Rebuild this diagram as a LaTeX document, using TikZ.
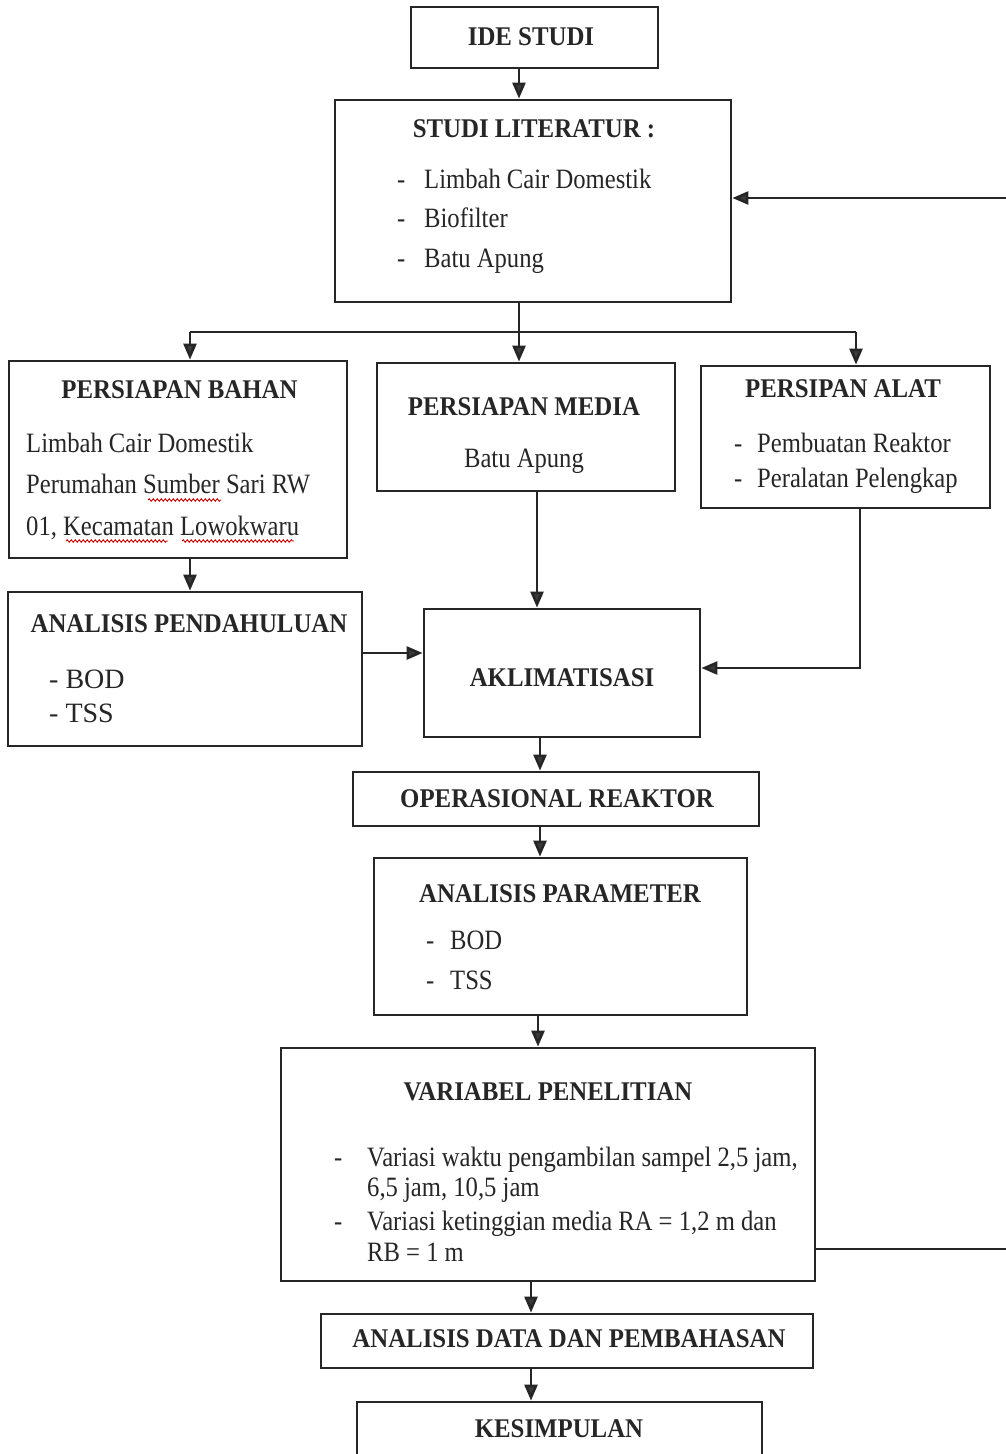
\documentclass[tikz,border=0pt]{standalone}
\usepackage{fontspec}
\setmainfont{Liberation Serif}
\newfontfamily\condfont[FakeStretch=0.92]{Liberation Serif}
\newfontfamily\bodyfont[FakeStretch=0.88]{Liberation Serif}
\usetikzlibrary{arrows.meta,decorations.pathmorphing}
\definecolor{ink}{HTML}{262626}
\definecolor{tipc}{HTML}{3A3A3A}
\begin{document}
\begin{tikzpicture}[x=1pt,y=-1pt,
  box/.style={draw=ink, line width=2.8pt, inner sep=0pt},
  ttl/.style={font=\condfont\bfseries\fontsize{27}{30}\selectfont, inner sep=0pt, anchor=base, text=ink},
  txt/.style={font=\bodyfont\fontsize{28}{32}\selectfont, inner sep=0pt, anchor=base west, text=ink},
  txtc/.style={txt, anchor=base},
  big/.style={font=\fontsize{28}{32}\selectfont, inner sep=0pt, anchor=base west, text=ink},
  ln/.style={draw=ink, line width=2.6pt},
  arr/.style={ln, -{Triangle[length=16pt,width=13pt,fill=tipc]}},
  squig/.style={draw=red!80!black, line width=0.9pt, decorate, decoration={snake, amplitude=1.2pt, segment length=4pt}}]
\path[fill=white, use as bounding box] (0,0) rectangle (1006,1454);

% boxes
\node[box, minimum width=247pt, minimum height=61pt] (ide) at (534.5,37.5) {};
\node[box, minimum width=396pt, minimum height=202pt] (studi) at (533,201) {};
\node[box, minimum width=338pt, minimum height=197pt] (bahan) at (178,459.5) {};
\node[box, minimum width=298pt, minimum height=128pt] (media) at (526,427) {};
\node[box, minimum width=289pt, minimum height=142pt] (alat) at (845.5,437) {};
\node[box, minimum width=354pt, minimum height=154pt] (pend) at (185,669) {};
\node[box, minimum width=276pt, minimum height=128pt] (akl) at (562,673) {};
\node[box, minimum width=406pt, minimum height=54pt] (oper) at (556,799) {};
\node[box, minimum width=373pt, minimum height=157pt] (param) at (560.5,936.5) {};
\node[box, minimum width=534pt, minimum height=233pt] (var) at (548,1164.5) {};
\node[box, minimum width=492pt, minimum height=54pt] (data) at (567,1341) {};
\node[box, minimum width=405pt, minimum height=68pt] (kes) at (559.5,1436) {};

% texts
\node[ttl] (ideT) at (531,45) {IDE STUDI};
\node[ttl] (studiT) at (534,137) {STUDI LITERATUR :};
\node[txt] (sd1) at (397,188) {-};
\node[txt] (st1) at (424,188) {Limbah Cair Domestik};
\node[txt] (sd2) at (397,227) {-};
\node[txt] (st2) at (424,227) {Biofilter};
\node[txt] (sd3) at (397,267) {-};
\node[txt] (st3) at (424,267) {Batu Apung};

\node[ttl] (bahanT) at (179.5,398) {PERSIAPAN BAHAN};
\node[txt] (bt1) at (26,452) {Limbah Cair Domestik};
\node[txt] (bt2) at (26,493) {Perumahan Sumber Sari RW};
\node[txt] (bt3) at (26,535) {01, Kecamatan Lowokwaru};
\draw[squig] (148,500) -- (221,500);
\draw[squig] (66,541) -- (168,541);
\draw[squig] (182,541) -- (294,541);

\node[ttl] (mediaT) at (524,415) {PERSIAPAN MEDIA};
\node[txtc] (mt1) at (524,467) {Batu Apung};

\node[ttl] (alatT) at (843,397) {PERSIPAN ALAT};
\node[txt] (ad1) at (734,452) {-};
\node[txt] (at1) at (757,452) {Pembuatan Reaktor};
\node[txt] (ad2) at (734,487) {-};
\node[txt] (at2) at (757,487) {Peralatan Pelengkap};

\node[ttl] (pendT) at (189,632) {ANALISIS PENDAHULUAN};
\node[big] (pt1) at (49,688) {- BOD};
\node[big] (pt2) at (49,722) {- TSS};

\node[ttl] (aklT) at (562,686) {AKLIMATISASI};
\node[ttl] (operT) at (557,807) {OPERASIONAL REAKTOR};

\node[ttl] (paramT) at (560,902) {ANALISIS PARAMETER};
\node[txt] (pd1) at (426,949) {-};
\node[txt] (pr1) at (450,949) {BOD};
\node[txt] (pd2) at (426,989) {-};
\node[txt] (pr2) at (450,989) {TSS};

\node[ttl] (varT) at (548,1100) {VARIABEL PENELITIAN};
\node[txt] (vd1) at (334,1166) {-};
\node[txt] (vt1) at (367,1166) {Variasi waktu pengambilan sampel 2,5 jam,};
\node[txt] (vt2) at (367,1196) {6,5 jam, 10,5 jam};
\node[txt] (vd2) at (334,1230) {-};
\node[txt] (vt3) at (367,1230) {Variasi ketinggian media RA = 1,2 m dan};
\node[txt] (vt4) at (367,1261) {RB = 1 m};

\node[ttl] (dataT) at (569,1347) {ANALISIS DATA DAN PEMBAHASAN};
\node[ttl] (kesT) at (559,1437) {KESIMPULAN};

% helper coordinates
\coordinate (x519) at (519,0);
\coordinate (br) at (519,332);
\coordinate (bl) at (190,332);
\coordinate (brr) at (856,332);
\coordinate (x537) at (537,0);
\coordinate (x540) at (540,0);
\coordinate (x538) at (538,0);
\coordinate (x531) at (531,0);
\coordinate (x860) at (860,0);
\coordinate (y668) at (0,668);
\coordinate (y653) at (0,653);
\coordinate (y1249) at (0,1249);
\coordinate (y198) at (0,198);
\coordinate (fb1) at (1010,1249);
\coordinate (fb2) at (1010,198);

% connectors
\draw[arr] (ide.south -| x519) -- (studi.north -| x519);
\draw[ln] (studi.south -| x519) -- (br);
\draw[ln] (bl) -- (brr);
\draw[arr] (bl) -- (bahan.north -| bl);
\draw[arr] (br) -- (media.north -| br);
\draw[arr] (brr) -- (alat.north -| brr);
\draw[arr] (bahan.south -| bl) -- (pend.north -| bl);
\draw[arr] (media.south -| x537) -- (akl.north -| x537);
\draw[arr] (pend.east |- y653) -- (akl.west |- y653);
\draw[arr] (alat.south -| x860) |- (akl.east |- y668);
\draw[arr] (akl.south -| x540) -- (oper.north -| x540);
\draw[arr] (oper.south -| x540) -- (param.north -| x540);
\draw[arr] (param.south -| x538) -- (var.north -| x538);
\draw[arr] (var.south -| x531) -- (data.north -| x531);
\draw[arr] (data.south -| x531) -- (kes.north -| x531);
\draw[arr] (var.east |- y1249) -- (fb1) -- (fb2) -- (studi.east |- y198);
\end{tikzpicture}
\end{document}
